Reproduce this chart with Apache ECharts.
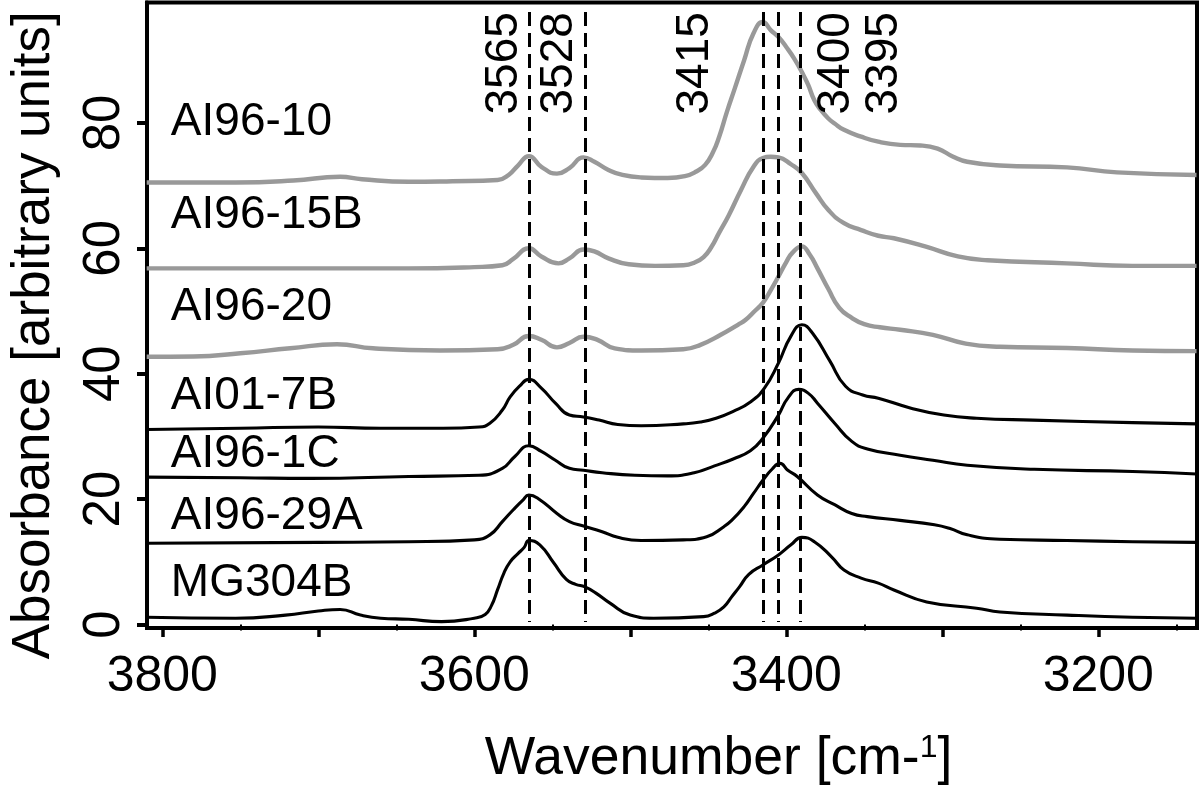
<!DOCTYPE html>
<html><head><meta charset="utf-8">
<script src="https://cdn.jsdelivr.net/npm/echarts@6/dist/echarts.min.js"></script>
<style>html,body{margin:0;padding:0;background:#fff}#c{width:1200px;height:792px}</style>
</head><body><div id="c"></div>
<script>
// ---------- DATA ----------
const sampleNames = ['AI96-10','AI96-15B','AI96-20','AI01-7B','AI96-1C','AI96-29A','MG304B'];

const AI96_10 = [[3810,70.5],[3780,70.5],[3753,70.5],[3716,70.8],[3686,71.4],[3672,71.0],[3642,70.6],[3614,70.7],[3585,70.9],[3578,71.7],[3572,73.2],[3565,74.7],[3557,73.0],[3547,71.9],[3539,72.8],[3530,74.5],[3523,73.8],[3514,72.5],[3505,71.7],[3493,71.3],[3476,71.2],[3465,71.5],[3458,72.2],[3452,73.3],[3447,75.3],[3443,77.8],[3438,81.8],[3433,85.5],[3427,90.0],[3421,94.3],[3415,96.1],[3410,94.8],[3405,93.7],[3400,92.1],[3395,90.3],[3390,88.1],[3386,86.1],[3382,83.6],[3378,82.1],[3373,80.7],[3369,79.9],[3363,78.9],[3352,77.8],[3341,77.0],[3327,76.5],[3314,76.4],[3303,75.9],[3293,74.6],[3284,73.8],[3263,73.2],[3220,72.9],[3188,72.1],[3137,71.7]];

const AI96_15B = [[3810,56.8],[3750,56.8],[3700,56.8],[3642,56.8],[3600,57.0],[3582,57.3],[3575,58.3],[3565,60.0],[3557,58.7],[3546,57.6],[3539,58.4],[3530,59.8],[3523,59.5],[3514,58.4],[3501,57.45],[3484,57.2],[3466,57.3],[3459,57.7],[3453,58.6],[3448,60.2],[3443,62.5],[3437,65.2],[3429,69.3],[3421,73.0],[3415,74.4],[3410,74.6],[3405,74.5],[3397,73.4],[3390,72.0],[3381,68.8],[3373,66.1],[3363,64.0],[3352,62.9],[3341,62.0],[3331,61.6],[3311,60.3],[3290,58.7],[3271,58.1],[3220,57.6],[3178,57.2],[3137,57.2]];

const AI96_20 = [[3810,42.7],[3780,42.75],[3750,43.25],[3718,44.05],[3688,44.7],[3665,44.05],[3622,43.7],[3585,43.9],[3575,44.6],[3565,46.0],[3557,45.4],[3547,44.2],[3539,44.9],[3530,45.9],[3521,45.4],[3510,44.05],[3493,43.7],[3466,43.9],[3455,44.6],[3442,46.2],[3431,47.8],[3426,48.6],[3421,49.8],[3415,51.3],[3410,53.3],[3405,55.5],[3400,57.8],[3396,59.3],[3390,60.3],[3385,59.0],[3380,56.8],[3373,53.5],[3366,50.5],[3358,48.9],[3350,47.9],[3340,47.4],[3327,47.0],[3306,46.2],[3285,44.8],[3263,44.3],[3220,44.1],[3178,43.7],[3137,43.6]];

const AI01_7B = [[3810,31.1],[3750,31.3],[3700,31.5],[3660,31.3],[3620,31.3],[3597,31.5],[3590,32.1],[3582,34.2],[3577,36.3],[3571,38.0],[3565,39.1],[3557,37.7],[3548,35.3],[3539,33.4],[3530,33.1],[3520,32.6],[3508,31.9],[3493,31.7],[3466,32.0],[3455,32.3],[3445,32.9],[3434,34.0],[3423,35.5],[3414,37.7],[3405,41.7],[3397,46.0],[3390,47.8],[3383,46.4],[3372,42.0],[3362,38.0],[3351,36.6],[3341,36.1],[3320,34.5],[3299,33.4],[3278,32.9],[3242,32.6],[3178,32.2],[3137,32.0]];

const AI96_1C = [[3810,23.5],[3750,23.4],[3705,23.3],[3642,23.6],[3597,23.8],[3582,24.9],[3574,26.8],[3565,28.5],[3557,27.6],[3548,26.2],[3539,24.9],[3530,24.6],[3518,24.2],[3497,23.8],[3476,23.7],[3459,24.2],[3446,25.3],[3434,26.4],[3423,27.7],[3415,29.7],[3405,33.4],[3399,36.1],[3392,37.5],[3386,36.9],[3380,35.3],[3369,32.1],[3358,29.2],[3348,28.0],[3327,27.0],[3306,26.2],[3284,25.4],[3241,24.75],[3178,24.4],[3137,24.0]];

const AI96_29A = [[3810,12.95],[3700,13.1],[3642,13.2],[3600,13.5],[3590,14.3],[3582,16.4],[3575,18.3],[3569,19.8],[3565,20.65],[3558,19.9],[3547,17.7],[3539,16.4],[3530,15.7],[3518,14.8],[3508,13.9],[3493,13.4],[3466,13.5],[3451,14.0],[3440,15.6],[3435,16.6],[3427,18.8],[3421,20.9],[3415,23.0],[3409,24.8],[3404,25.7],[3399,24.6],[3393,23.6],[3380,20.65],[3369,19.1],[3358,17.7],[3348,17.2],[3327,16.6],[3305,15.9],[3295,15.3],[3284,14.3],[3263,13.6],[3220,13.4],[3178,13.2],[3137,13.1]];

const MG304B = [[3810,1.15],[3753,1.0],[3721,1.5],[3700,2.15],[3686,2.4],[3673,1.5],[3660,1.0],[3642,0.83],[3621,0.45],[3600,1.0],[3593,1.6],[3589,3.0],[3585,5.6],[3581,8.2],[3577,10.0],[3572,11.3],[3568,12.3],[3565,13.4],[3558,12.7],[3549,9.8],[3541,7.2],[3535,6.4],[3529,6.0],[3522,5.0],[3513,3.4],[3500,1.5],[3485,1.0],[3453,1.25],[3446,1.8],[3440,2.8],[3435,4.4],[3430,6.0],[3424,8.0],[3415,9.5],[3405,11.1],[3397,12.7],[3390,13.9],[3382,13.2],[3371,10.8],[3363,8.7],[3352,7.4],[3341,6.6],[3331,5.5],[3310,3.6],[3278,2.6],[3263,2.0],[3220,1.5],[3178,1.15],[3137,1.0]];

const peakLineWavenumbers = [3565, 3529, 3415, 3405, 3391];
const peakLabelTexts = ['3565', '3528', '3415', '3400', '3395'];
const xMajorTicks = [3800, 3700, 3600, 3500, 3400, 3300, 3200];
const xMinorTicks = [3750, 3650, 3550, 3450, 3350, 3250, 3150];
const xTickLabels = [3800, 3600, 3400, 3200];
const yTickLabels = [0, 20, 40, 60, 80];

// ---------- LAYOUT (label anchors in data space) ----------
const X_MIN = 3136.7, X_MAX = 3809.8, Y_MIN = -0.56, Y_MAX = 99.2;
const nameAnchorX = 3794.5;
const nameAnchorY = [80.06, 65.3, 50.56, 36.44, 27.19, 17.3, 6.62];
const peakAnchorX = [3580.8, 3545.4, 3458.1, 3367.7, 3337.2];
const peakAnchorY = 89.5;
const lineTop = 97.7, lineBottom = 0.4;

const FONT = 'Liberation Sans, Arial, sans-serif';
const GRAY = '#999999';
const curves = [AI96_10, AI96_15B, AI96_20, AI01_7B, AI96_1C, AI96_29A, MG304B];

const series = curves.map((d, i) => ({
  type: 'line', name: sampleNames[i], data: d, symbol: 'none', showSymbol: false,
  smooth: 0.5, silent: true, z: 2,
  lineStyle: { color: i < 3 ? GRAY : '#000', width: i < 3 ? 4.4 : 3.1, join: 'round' }
}));

series.push({
  type: 'scatter', name: 'names', silent: true, z: 5,
  symbol: 'circle', symbolSize: 1, itemStyle: { color: 'rgba(0,0,0,0)', opacity: 1 },
  data: sampleNames.map((n, i) => [nameAnchorX, nameAnchorY[i], n]),
  label: { show: true, position: 'inside', align: 'left', verticalAlign: 'middle', opacity: 1,
    formatter: p => p.data[2], fontSize: 46, color: '#000', fontFamily: FONT }
});

series.push({
  type: 'scatter', name: 'peaks', silent: true, z: 6,
  symbol: 'circle', symbolSize: 1, itemStyle: { color: 'rgba(0,0,0,0)', opacity: 1 },
  data: peakLabelTexts.map((t, i) => [peakAnchorX[i], peakAnchorY, t]),
  label: { show: true, position: 'inside', align: 'center', verticalAlign: 'middle', rotate: 90, opacity: 1,
    formatter: p => p.data[2], fontSize: 46, color: '#000', fontFamily: FONT },
  markLine: {
    silent: true, symbol: ['none', 'none'], label: { show: false }, animation: false,
    lineStyle: { color: '#000', width: 3, type: [14, 7], opacity: 1 },
    data: peakLineWavenumbers.map(w => [{ coord: [w, lineTop] }, { coord: [w, lineBottom] }])
  }
});

const chart = echarts.init(document.getElementById('c'), null, { renderer: 'canvas' });
chart.setOption({
  animation: false,
  backgroundColor: '#fff',
  textStyle: { fontFamily: FONT, color: '#000' },
  grid: { left: 143.7, right: 3, top: 2.5, bottom: 164, show: true, borderColor: '#000', borderWidth: 4, backgroundColor: 'transparent' },
  xAxis: [{
    type: 'value', min: X_MIN, max: X_MAX, inverse: true, position: 'bottom',
    axisLine: { show: true, onZero: false, lineStyle: { color: '#000', width: 4 } },
    axisTick: { show: true, customValues: xMajorTicks, length: 9, lineStyle: { color: '#000', width: 3.5 } },
    axisLabel: { show: true, customValues: xTickLabels, formatter: v => String(Math.round(v)), margin: 24, fontSize: 50, color: '#000', fontFamily: FONT },
    splitLine: { show: false },
    name: 'Wavenumber [cm-{sup|1}]', nameLocation: 'middle', nameGap: 104,
    nameTextStyle: { fontSize: 53.5, color: '#000', fontFamily: FONT, padding: [0, 0, 0, 93],
      rich: { sup: { fontSize: 32, verticalAlign: 'top', color: '#000', fontFamily: FONT } } }
  }, {
    type: 'value', min: X_MIN, max: X_MAX, inverse: true, position: 'bottom',
    axisLine: { show: false },
    axisTick: { show: true, customValues: xMinorTicks, length: 6, lineStyle: { color: '#000', width: 2 } },
    axisLabel: { show: false }, splitLine: { show: false }
  }],
  yAxis: {
    type: 'value', min: Y_MIN, max: Y_MAX,
    axisLine: { show: true, onZero: false, lineStyle: { color: '#000', width: 4 } },
    axisTick: { show: true, customValues: yTickLabels, length: 10, lineStyle: { color: '#000', width: 4 } },
    axisLabel: { show: true, customValues: yTickLabels, formatter: v => String(Math.round(v)), rotate: 90, margin: 17, fontSize: 51, color: '#000', fontFamily: FONT },
    splitLine: { show: false },
    name: 'Absorbance [arbitrary units]', nameLocation: 'middle', nameGap: 86,
    nameTextStyle: { fontSize: 53, color: '#000', fontFamily: FONT, padding: [0, 40, 0, 0] }
  },
  series: series
});
</script></body></html>
